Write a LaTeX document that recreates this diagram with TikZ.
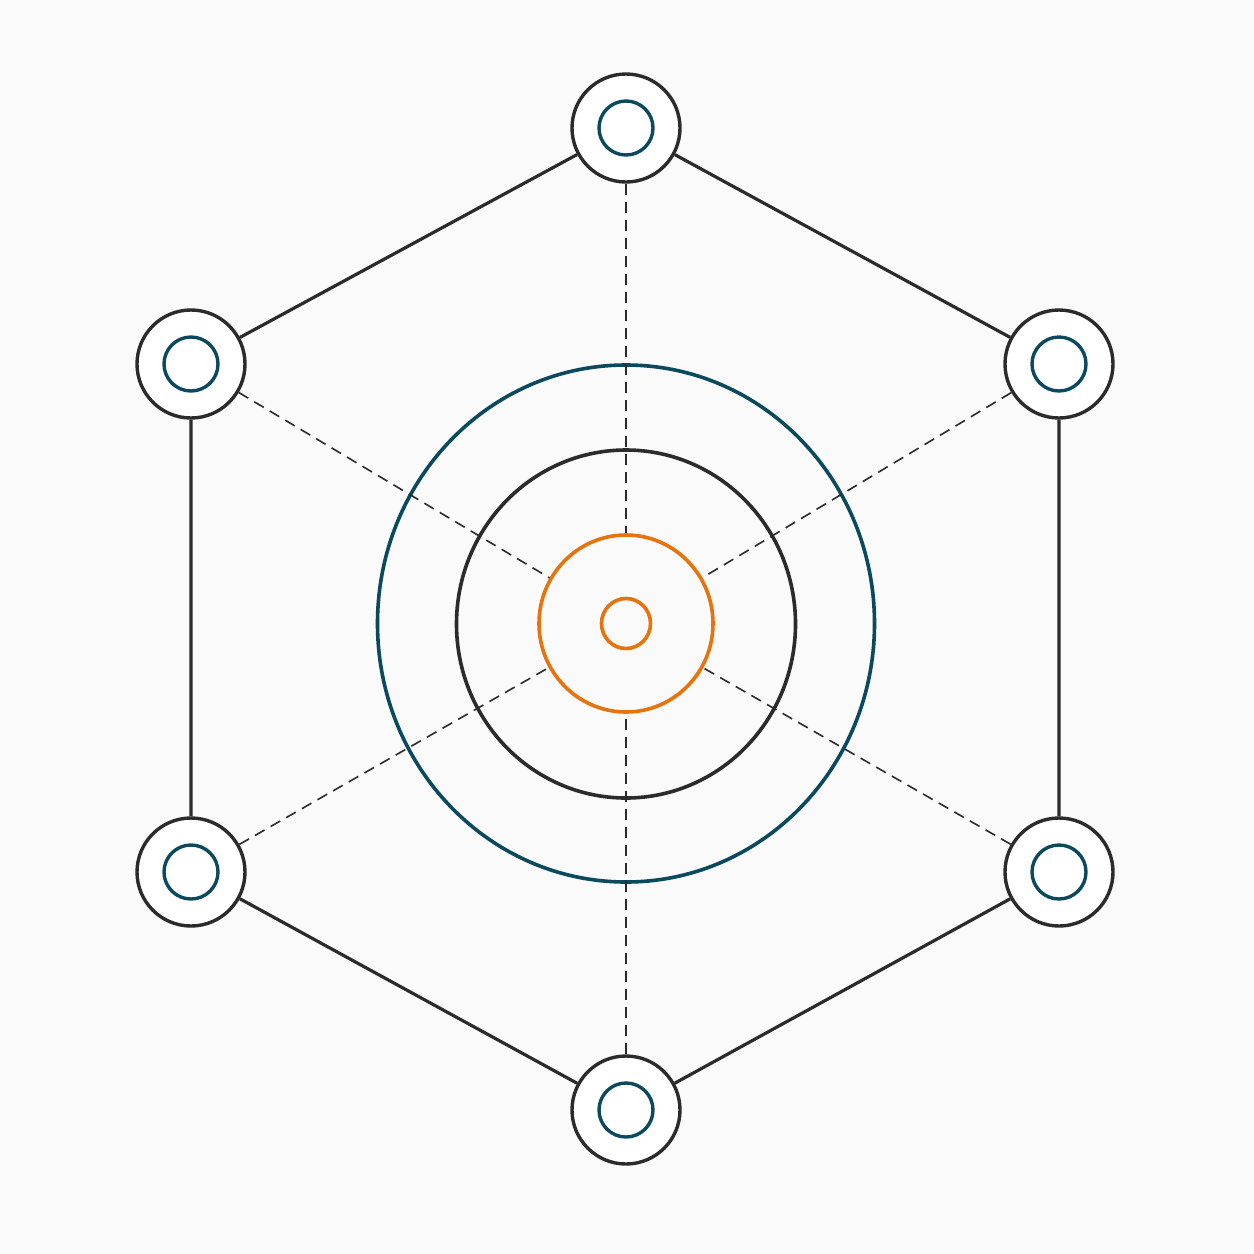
\documentclass[tikz,border=0pt]{standalone}
\usepackage{tikz}
\usetikzlibrary{shapes.geometric}
\definecolor{ink}{HTML}{2B2B2B}
\definecolor{petrol}{HTML}{0B4A5E}
\definecolor{amber}{HTML}{E8720C}
\begin{document}
\begin{tikzpicture}[x=1pt,y=-1pt]
        \tikzstyle{ring}=[circle,draw=ink,line width=3.4pt,fill=white,minimum size=108pt,inner sep=0pt]
        \tikzstyle{core}=[circle,draw=petrol,line width=3.4pt,minimum size=54pt,inner sep=0pt]
        \tikzstyle{orbit}=[ellipse,line width=3.6pt,inner sep=0pt]
        \tikzstyle{rim}=[draw=ink,line width=3.2pt]
        \tikzstyle{spoke}=[draw=ink,line width=1.6pt,dash pattern=on 11pt off 7pt]
       \fill[white!98!black] (0,0) rectangle (1254,1254);
       \useasboundingbox (0,0) rectangle (1254,1254);
       \begin{scope}

         % central rings
         \node [orbit,draw=petrol,minimum width=497pt,minimum height=517pt] (big) at (626,623.5) {};
         \node [orbit,draw=ink,minimum width=339pt,minimum height=348pt] (mid) at (626,624) {};
         \node [orbit,draw=amber,minimum width=174pt,minimum height=177pt] (hub) at (626,623.5) {};
         \node [orbit,draw=amber,minimum width=49pt,minimum height=50pt] (eye) at (626,623.5) {};

         % outer stations
         \node [ring] (n1) at (626,128) {};
         \node [ring] (n2) at (1059,364) {};
         \node [ring] (n3) at (1059,872) {};
         \node [ring] (n4) at (626,1110) {};
         \node [ring] (n5) at (191,872) {};
         \node [ring] (n6) at (191,364) {};

 		\path[rim] (n1) -- (n2) -- (n3) -- (n4) -- (n5) -- (n6) -- (n1);
 		\foreach \n in {n1,n2,n3,n4,n5,n6}
 		  \path[spoke] (\n) -- (hub);

         \foreach \n in {n1,n2,n3,n4,n5,n6}
           \node [core] at (\n) {};

        \end{scope}
      \end{tikzpicture}
\end{document}
